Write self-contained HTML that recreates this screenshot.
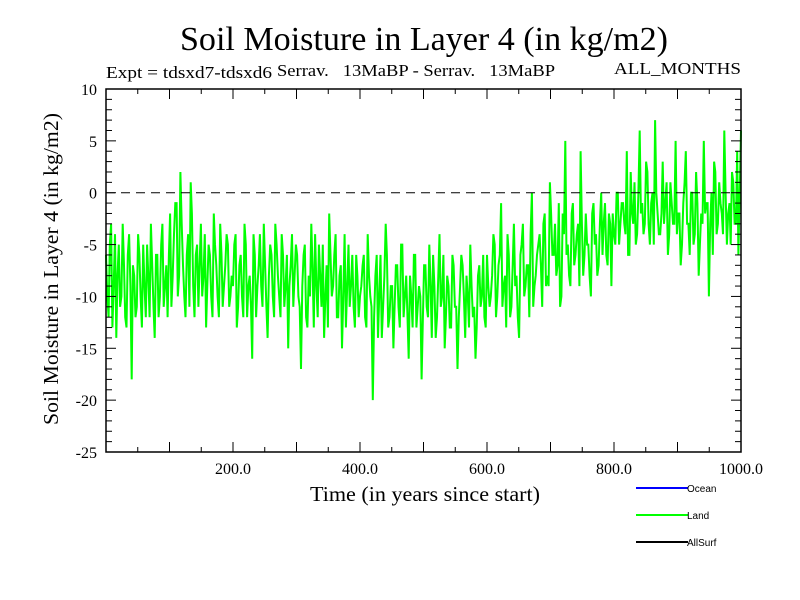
<!DOCTYPE html>
<html><head><meta charset="utf-8"><style>
body{margin:0;background:#fff;}
svg{display:block;font-family:"Liberation Serif",serif;}
.leg{font-family:"Liberation Sans",sans-serif;font-size:10px;}
</style></head><body>
<svg id="chart" width="800" height="600">
<text x="424" y="50" font-size="34" text-anchor="middle" textLength="488" lengthAdjust="spacingAndGlyphs">Soil Moisture in Layer 4 (in kg/m2)</text>
<text x="106" y="78" font-size="17" textLength="166" lengthAdjust="spacingAndGlyphs">Expt = tdsxd7-tdsxd6</text>
<text x="277" y="76" font-size="17" textLength="278" lengthAdjust="spacingAndGlyphs">Serrav.&#160;&#160;&#160;13MaBP - Serrav.&#160;&#160;&#160;13MaBP</text>
<text x="614" y="74" font-size="17" textLength="127" lengthAdjust="spacingAndGlyphs">ALL_MONTHS</text>
<text x="425" y="501" font-size="21" text-anchor="middle" textLength="230" lengthAdjust="spacingAndGlyphs">Time (in years since start)</text>
<text transform="translate(58,269) rotate(-90)" font-size="21" text-anchor="middle" textLength="312" lengthAdjust="spacingAndGlyphs">Soil Moisture in Layer 4 (in kg/m2)</text>
<g id="plot"></g>
<g>
<line x1="636" y1="488" x2="688" y2="488" stroke="#0000ff" stroke-width="2"/>
<text class="leg" x="687" y="492">Ocean</text>
<line x1="636" y1="515" x2="688" y2="515" stroke="#00ff00" stroke-width="2"/>
<text class="leg" x="687" y="519">Land</text>
<line x1="636" y1="542" x2="688" y2="542" stroke="#000" stroke-width="2"/>
<text class="leg" x="687" y="546">AllSurf</text>
</g>
</svg>
<script>
const yTicks=[10,5,0,-5,-10,-15,-20,-25];
const xTickLabels=["200.0","400.0","600.0","800.0","1000.0"];
const xTicks=[200,400,600,800,1000];
// even-sample values (every 4 years)
const landValuesA=[
-6,-12,-3,-9,-14,-5,-10,-7,-13,-4,-18,-8,-11,-6,-13,-9,-5,-12,-7,-14,-6,-10,-3,-9,-12,
-2,-8,-1,-10,2,-7,-12,-4,1,-9,-6,-11,-3,-8,-13,-5,-10,-2,-7,-12,-6,-9,-4,-11,-8,
-5,-13,-7,-10,-3,-12,-8,-16,-6,-9,-4,-11,-7,-14,-5,-10,-3,-8,-12,-6,-9,-15,-7,-11,-5,
-10,-17,-6,-12,-8,-3,-13,-9,-5,-11,-14,-7,-2,-10,-6,-12,-8,-15,-4,-9,-11,-6,-13,-8,-10,
-7,-12,-4,-10,-20,-8,-14,-6,-11,-3,-13,-9,-15,-7,-11,-5,-12,-8,-16,-10,-6,-13,-9,-18,-7,
-11,-5,-14,-9,-12,-4,-10,-15,-8,-13,-6,-11,-17,-9,-7,-14,-10,-5,-12,-16,-8,-11,-6,-13,-9,
-10,-4,-12,-7,-1,-9,-13,-6,-11,-3,-8,-14,-5,-10,-7,-12,0,-9,-6,-4,-11,-2,-8,1,-6,
-3,-7,-11,-2,5,-5,-9,-1,-6,-3,4,-8,-2,-5,-10,-1,-4,-7,0,-3,-6,-2,-9,-4,0,
-5,-1,-3,4,-6,-2,1,-4,6,-1,-3,2,-5,0,7,-2,-4,3,-1,-6,1,-3,5,-2,-7,
-1,4,-3,0,-5,2,-8,-2,5,-1,-10,0,3,-4,1,-2,6,-5,-1,2,-3,4,-6,0,6
];
// odd-sample values (in-between years)
const landValuesB=[
-10,-5,-13,-4,-8,-11,-3,-12,-6,-9,-7,-12,-4,-10,-5,-12,-8,-3,-11,-6,-12,-5,-11,-7,
-6,-11,-4,-1,-8,-3,-10,-6,-11,-2,-12,-5,-7,-10,-4,-9,-6,-12,-5,-10,-3,-11,-7,-5,-10,
-9,-4,-11,-6,-12,-5,-9,-11,-4,-12,-7,-9,-3,-11,-8,-6,-12,-5,-10,-4,-11,-6,-9,-4,-8,
-6,-11,-9,-5,-13,-10,-7,-4,-12,-8,-5,-10,-13,-6,-9,-4,-12,-7,-10,-13,-5,-9,-11,-6,-12,
-9,-6,-13,-8,-11,-12,-6,-10,-14,-8,-6,-12,-9,-11,-7,-13,-5,-10,-12,-8,-13,-6,-11,-10,-12,
-7,-12,-9,-6,-14,-8,-11,-6,-12,-9,-13,-7,-11,-12,-6,-10,-8,-13,-9,-11,-13,-7,-10,-12,
-6,-11,-8,-5,-10,-6,-11,-8,-4,-12,-7,-9,-12,-6,-3,-9,-7,-4,-11,-8,-5,-7,-3,-9,
-9,-2,-6,-8,-1,-10,-4,-6,-8,-2,-7,-4,-9,-3,-6,-5,-8,-2,-5,-8,-3,-6,-1,-7,-3,
-2,-5,0,-3,-1,-4,-6,2,-3,-5,0,-2,-4,3,-3,-1,-5,0,-4,-2,-3,1,-4,-1,-3,
-4,-2,-5,1,-3,-6,0,-4,-1,-5,-3,-2,-1,-3,-6,2,-3,-1,-4,0,-2,-5,1,-3
];
const landValues=[];
landValuesA.forEach((v,i)=>{landValues.push(v);if(i<landValuesB.length)landValues.push(landValuesB[i]);});
const X0=106,X1=741,Y0=89,Y1=452,xMin=0,xMax=1000,yMin=-25,yMax=10;
const xs=v=>X0+(v-xMin)/(xMax-xMin)*(X1-X0);
const ys=v=>Y1-(v-yMin)/(yMax-yMin)*(Y1-Y0);
const NS="http://www.w3.org/2000/svg";
const g=document.getElementById('plot');
function mk(t,a){const e=document.createElementNS(NS,t);for(const k in a)e.setAttribute(k,a[k]);g.appendChild(e);return e;}
const step=(xMax-xMin)/(landValues.length-1);
const pts=landValues.map((v,i)=>xs(xMin+i*step).toFixed(1)+","+ys(v).toFixed(1)).join(" ");
const line=mk('polyline',{points:pts,fill:"none",stroke:"#00ff00","stroke-width":2});


const z=mk('line',{x1:X0,x2:X1,y1:ys(0),y2:ys(0),stroke:"#000","stroke-dasharray":"9,6","stroke-width":1});


const fr=mk('rect',{x:X0,y:Y0,width:X1-X0,height:Y1-Y0,fill:"none",stroke:"#000","stroke-width":1.5});


for(let v=yMin;v<=yMax;v++){const big=v%5===0;
 mk('line',{x1:X0,x2:X0+(big?10:6),y1:ys(v),y2:ys(v),stroke:"#000"});
 mk('line',{x1:X1,x2:X1-(big?10:6),y1:ys(v),y2:ys(v),stroke:"#000"});}
yTicks.forEach(v=>{const t=mk('text',{x:X0-9,y:ys(v)+6,"font-size":16,"text-anchor":"end"});t.textContent=v;

});
for(let v=50;v<=xMax;v+=50){const big=v%100===0;
 mk('line',{x1:xs(v),x2:xs(v),y1:Y1,y2:Y1-(big?10:5),stroke:"#000"});
 mk('line',{x1:xs(v),x2:xs(v),y1:Y0,y2:Y0+(big?10:5),stroke:"#000"});}
xTicks.forEach((v,i)=>{const t=mk('text',{x:xs(v),y:Y1+22,"font-size":16,"text-anchor":"middle"});t.textContent=xTickLabels[i];

});
</script>
</body></html>
